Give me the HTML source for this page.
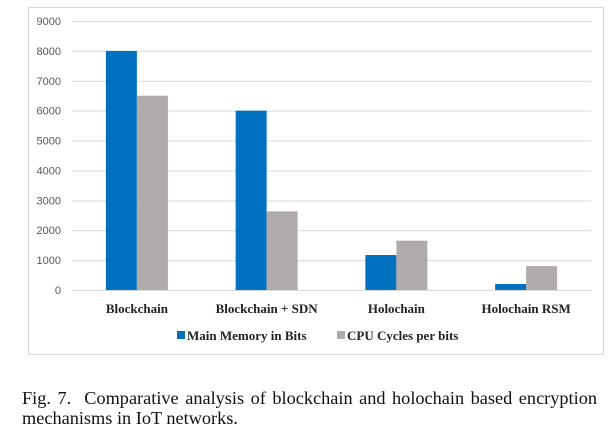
<!DOCTYPE html>
<html><head><meta charset="utf-8"><style>
body{margin:0;background:#fff;width:613px;height:431px;overflow:hidden;position:relative}
svg text{font-family:"Liberation Serif",serif}
svg text.ax{font-family:"Liberation Sans",sans-serif}
.cap{position:absolute;left:22px;width:575px;font-family:"Liberation Serif",serif;font-size:18.3px;line-height:20px;color:#111;text-align:justify;text-align-last:justify;white-space:nowrap}
</style></head><body>
<svg width="613" height="360" style="position:absolute;left:0;top:0">
<rect x="28.5" y="7.5" width="575" height="347" fill="#fff" stroke="#d9d9d9"/>
<g id="grid"></g><g id="bars"></g><g id="labels"></g>
<g>
<rect x="177" y="331" width="8" height="8" fill="#0070c0"/>
<text x="187" y="340" font-size="13" font-weight="bold" fill="#222">Main Memory in Bits</text>
<rect x="337" y="331" width="8" height="8" fill="#afabab"/>
<text x="347" y="340" font-size="13" font-weight="bold" fill="#222">CPU Cycles per bits</text>
</g>
</svg>
<div class="cap" style="top:388px;white-space:normal">Fig. 7.&nbsp; Comparative analysis of blockchain and holochain based encryption</div>
<div class="cap" style="top:408px;text-align-last:left">mechanisms in IoT networks.</div>
<script>
const categories=["Blockchain","Blockchain + SDN","Holochain","Holochain RSM"];
const memory=[8000,6000,1170,200];
const cpu=[6500,2630,1650,800];
const ticks=[0,1000,2000,3000,4000,5000,6000,7000,8000,9000];
const NS="http://www.w3.org/2000/svg";
const x0=72,x1=591,y0=290,yTop=21,max=9000;
const y=v=>y0-(v/max)*(y0-yTop);
const band=(x1-x0)/categories.length;
const cx=i=>x0+band*(i+0.5);
const bw=31;
function mk(t,a,p){const e=document.createElementNS(NS,t);for(const k in a)e.setAttribute(k,a[k]);p.appendChild(e);return e;}
const g=document.getElementById('grid'),b=document.getElementById('bars'),l=document.getElementById('labels');
ticks.forEach(t=>{
 const ln=mk('line',{x1:x0,x2:x1,y1:y(t)+0.5,y2:y(t)+0.5,stroke:'#d9d9d9'},g);
 
 
 const tx=mk('text',{x:61,y:y(t)+4,'text-anchor':'end','font-size':'11',fill:'#595959','class':'ax'},g);
 tx.textContent=t;
 
 
});
categories.forEach((c,i)=>{
 const r1=mk('rect',{x:cx(i)-bw,y:y(memory[i]),width:bw,height:y0-y(memory[i]),fill:'#0070c0'},b);
 
 
 const r2=mk('rect',{x:cx(i),y:y(cpu[i]),width:bw,height:y0-y(cpu[i]),fill:'#afabab'},b);
 
 
 const t=mk('text',{x:cx(i),y:313,'text-anchor':'middle','font-size':'13','font-weight':'bold',fill:'#222'},l);
 t.textContent=c;
 
 
});
</script>
</body></html>
